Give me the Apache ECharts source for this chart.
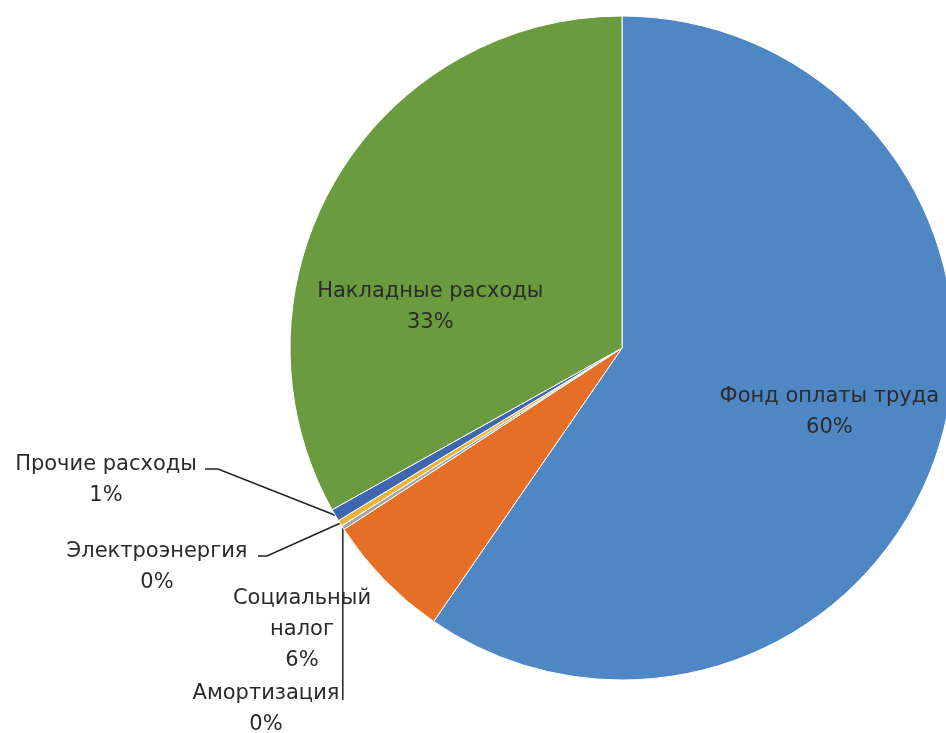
<!DOCTYPE html>
<html>
<head>
<meta charset="utf-8">
<script src="https://cdn.jsdelivr.net/npm/echarts@6/dist/echarts.min.js"></script>
<style>
  html, body { margin: 0; padding: 0; background: #fff; }
  #main { width: 946px; height: 733px; }
</style>
</head>
<body>
<div id="main"></div>
<script>
// структура затрат, %
const names = [
  "Фонд оплаты труда",
  "Социальный налог",
  "Амортизация",
  "Электроэнергия",
  "Прочие расходы",
  "Накладные расходы",
];
const values = [59.6, 6.2, 0.2, 0.3, 0.6, 33.1];
const colors = ["#4F87C5", "#E56F27", "#A5A5A5", "#E8B43A", "#3F66B0", "#6A9B3F"];

const main = document.getElementById("main");
const myChart = echarts.init(main);

const textStyle = {
  fontFamily: "DejaVu Sans",
  fontSize: 21,
  lineHeight: 31,
  color: "#2b2b2b",
};

// где стоят подписи маленьких секторов (как в Excel)
const outerLabels = {
  1: { x: 302, y: 630 },
  2: { x: 266, y: 709, line: [[0, 700], [0, 700]] },
  3: { x: 157, y: 567, line: [[267, 556], [258, 556]] },
  4: { x: 106, y: 480, line: [[218, 469], [205, 469]] },
};
// сдвиг подписей внутри секторов
const innerShift = {
  0: { dx: 46, dy: 14 },
  5: { dx: -46, dy: 45 },
};

const seriesData = names.map((n, i) => {
  const item = { name: n, value: values[i], itemStyle: { color: colors[i] } };
  if (i === 0 || i === 5) {
    item.label = { position: "inside" };
  } else {
    item.label = { position: "outside" };
    if (i === 1) {
      item.labelLine = { show: false };
    }
  }
  return item;
});

const option = {
  animation: false,
  series: [
    {
      type: "pie",
      center: [622, 348],
      radius: 332,
      startAngle: 90,
      clockwise: true,
      avoidLabelOverlap: false,
      data: seriesData,
      itemStyle: {
        borderColor: "#ffffff",
        borderWidth: 1,
      },
      label: Object.assign(
        {
          align: "center",
          formatter: function (p) {
            let name = p.name;
            if (p.dataIndex === 1) name = name.replace(" ", "\n");
            return name + "\n" + Math.round(p.percent) + "%";
          },
        },
        textStyle
      ),
      labelLine: {
        show: true,
        lineStyle: { color: "#222", width: 1.5 },
      },
      labelLayout: function (params) {
        const i = params.dataIndex;
        if (innerShift[i]) {
          return innerShift[i];
        }
        const o = outerLabels[i];
        if (!o) return {};
        const res = { x: o.x, y: o.y, align: "center", verticalAlign: "middle" };
        if (o.line && params.labelLinePoints) {
          const start = params.labelLinePoints[0];
          const pts = o.line.map((p) => [p[0] === 0 ? start[0] : p[0], p[1]]);
          res.labelLinePoints = [start, pts[0], pts[1]];
        }
        return res;
      },
    },
  ],
};

myChart.setOption(option);
</script>
</body>
</html>
